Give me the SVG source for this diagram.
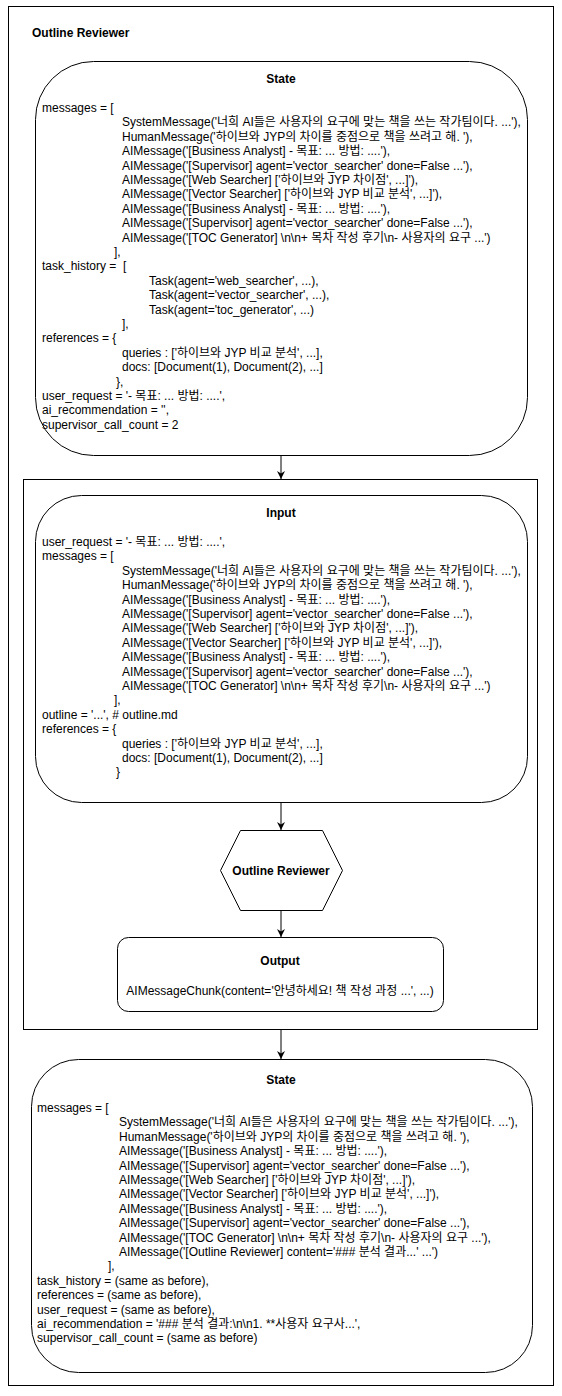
<svg xmlns="http://www.w3.org/2000/svg" width="562" height="1396" viewBox="0 0 562 1396">
<style>
text{font-family:"Liberation Sans",Arial,"Noto Sans CJK KR",sans-serif;font-size:12px;fill:#000}
.b{font-weight:bold}
.c{text-anchor:middle}
.box{fill:#fff;stroke:#000;stroke-width:1}
.ln{fill:none;stroke:#000;stroke-width:1}
</style>
<defs>
<marker id="arr" viewBox="0 0 10 10" refX="10" refY="5" markerWidth="8" markerHeight="8" markerUnits="userSpaceOnUse" orient="auto">
<path d="M0,0 L10,5 L0,10 L3,5 z" fill="#000"/>
</marker>
</defs>
<rect width="562" height="1396" fill="#fff"/>
<g id="frame">
<rect class="box" x="8.5" y="6.5" width="545" height="1379"/>
<text class="b" x="32" y="37">Outline Reviewer</text>
</g>
<g id="group">
<rect class="box" x="23.5" y="479.5" width="514" height="550"/>
</g>
<g id="connectors">
<line class="ln" x1="281" y1="455" x2="281" y2="479" marker-end="url(#arr)"/>
<line class="ln" x1="281" y1="803" x2="281" y2="830" marker-end="url(#arr)"/>
<line class="ln" x1="281" y1="910" x2="281" y2="937" marker-end="url(#arr)"/>
<line class="ln" x1="281" y1="1029" x2="281" y2="1059" marker-end="url(#arr)"/>
</g>
<g id="state1">
<rect class="box" x="35.5" y="61.5" width="492" height="394" rx="58" ry="58"/>
<text class="b c" x="281" y="83">State</text>
<text x="42" y="112">messages = [</text>
<text x="122" y="126.4">SystemMessage('너희 AI들은 사용자의 요구에 맞는 책을 쓰는 작가팀이다. ...'),</text>
<text x="122" y="140.8">HumanMessage('하이브와 JYP의 차이를 중점으로 책을 쓰려고 해. '),</text>
<text x="122" y="155.2">AIMessage('[Business Analyst] - 목표: ... 방법: ....'),</text>
<text x="122" y="169.6">AIMessage('[Supervisor] agent='vector_searcher' done=False ...'),</text>
<text x="122" y="184">AIMessage('[Web Searcher] ['하이브와 JYP 차이점', ...]'),</text>
<text x="122" y="198.4">AIMessage('[Vector Searcher] ['하이브와 JYP 비교 분석', ...]'),</text>
<text x="122" y="212.8">AIMessage('[Business Analyst] - 목표: ... 방법: ....'),</text>
<text x="122" y="227.2">AIMessage('[Supervisor] agent='vector_searcher' done=False ...'),</text>
<text x="122" y="241.6">AIMessage('[TOC Generator] \n\n+ 목차 작성 후기\n- 사용자의 요구 ...')</text>
<text x="114" y="256">],</text>
<text x="42" y="270.4">task_history =</text><text x="123" y="270.4">[</text>
<text x="149" y="284.8">Task(agent='web_searcher', ...),</text>
<text x="149" y="299.2">Task(agent='vector_searcher', ...),</text>
<text x="149" y="313.6">Task(agent='toc_generator', ...)</text>
<text x="122" y="328">],</text>
<text x="42" y="342.4">references = {</text>
<text x="122" y="356.8">queries : ['하이브와 JYP 비교 분석', ...],</text>
<text x="122" y="371.2">docs: [Document(1), Document(2), ...]</text>
<text x="116" y="385.6">},</text>
<text x="42" y="400">user_request = '- 목표: ... 방법: ....',</text>
<text x="42" y="414.4">ai_recommendation = '',</text>
<text x="42" y="428.8">supervisor_call_count = 2</text>
</g>
<g id="input">
<rect class="box" x="35.5" y="495.5" width="492" height="307" rx="46" ry="46"/>
<text class="b c" x="281" y="517">Input</text>
<text x="42" y="546">user_request = '- 목표: ... 방법: ....',</text>
<text x="42" y="560.4">messages = [</text>
<text x="122" y="574.8">SystemMessage('너희 AI들은 사용자의 요구에 맞는 책을 쓰는 작가팀이다. ...'),</text>
<text x="122" y="589.2">HumanMessage('하이브와 JYP의 차이를 중점으로 책을 쓰려고 해. '),</text>
<text x="122" y="603.6">AIMessage('[Business Analyst] - 목표: ... 방법: ....'),</text>
<text x="122" y="618">AIMessage('[Supervisor] agent='vector_searcher' done=False ...'),</text>
<text x="122" y="632.4">AIMessage('[Web Searcher] ['하이브와 JYP 차이점', ...]'),</text>
<text x="122" y="646.8">AIMessage('[Vector Searcher] ['하이브와 JYP 비교 분석', ...]'),</text>
<text x="122" y="661.2">AIMessage('[Business Analyst] - 목표: ... 방법: ....'),</text>
<text x="122" y="675.6">AIMessage('[Supervisor] agent='vector_searcher' done=False ...'),</text>
<text x="122" y="690">AIMessage('[TOC Generator] \n\n+ 목차 작성 후기\n- 사용자의 요구 ...')</text>
<text x="114" y="704.4">],</text>
<text x="42" y="718.8">outline = '...', # outline.md</text>
<text x="42" y="733.2">references = {</text>
<text x="122" y="747.6">queries : ['하이브와 JYP 비교 분석', ...],</text>
<text x="122" y="762">docs: [Document(1), Document(2), ...]</text>
<text x="116" y="776.4">}</text>
</g>
<g id="reviewer">
<polygon class="box" points="240.5,830.5 322.5,830.5 342.5,870.5 322.5,910.5 240.5,910.5 220.5,870.5"/>
<text class="b c" x="281" y="875">Outline Reviewer</text>
</g>
<g id="output">
<rect class="box" x="117.5" y="937.5" width="326" height="74" rx="11" ry="11"/>
<text class="b c" x="280" y="965">Output</text>
<text class="c" x="280" y="995">AIMessageChunk(content='안녕하세요! 책 작성 과정 ...', ...)</text>
</g>
<g id="state2">
<rect class="box" x="31.5" y="1059.5" width="501" height="313" rx="47" ry="47"/>
<text class="b c" x="281" y="1084">State</text>
<text x="37" y="1112">messages = [</text>
<text x="119" y="1126.4">SystemMessage('너희 AI들은 사용자의 요구에 맞는 책을 쓰는 작가팀이다. ...'),</text>
<text x="119" y="1140.8">HumanMessage('하이브와 JYP의 차이를 중점으로 책을 쓰려고 해. '),</text>
<text x="119" y="1155.2">AIMessage('[Business Analyst] - 목표: ... 방법: ....'),</text>
<text x="119" y="1169.6">AIMessage('[Supervisor] agent='vector_searcher' done=False ...'),</text>
<text x="119" y="1184">AIMessage('[Web Searcher] ['하이브와 JYP 차이점', ...]'),</text>
<text x="119" y="1198.4">AIMessage('[Vector Searcher] ['하이브와 JYP 비교 분석', ...]'),</text>
<text x="119" y="1212.8">AIMessage('[Business Analyst] - 목표: ... 방법: ....'),</text>
<text x="119" y="1227.2">AIMessage('[Supervisor] agent='vector_searcher' done=False ...'),</text>
<text x="119" y="1241.6">AIMessage('[TOC Generator] \n\n+ 목차 작성 후기\n- 사용자의 요구 ...'),</text>
<text x="119" y="1256">AIMessage('[Outline Reviewer] content='### 분석 결과...' ...')</text>
<text x="108" y="1270.4">],</text>
<text x="37" y="1284.8">task_history = (same as before),</text>
<text x="37" y="1299.2">references = (same as before),</text>
<text x="37" y="1313.6">user_request = (same as before),</text>
<text x="37" y="1328">ai_recommendation = '### 분석 결과:\n\n1. **사용자 요구사...',</text>
<text x="37" y="1342.4">supervisor_call_count = (same as before)</text>
</g>
</svg>
